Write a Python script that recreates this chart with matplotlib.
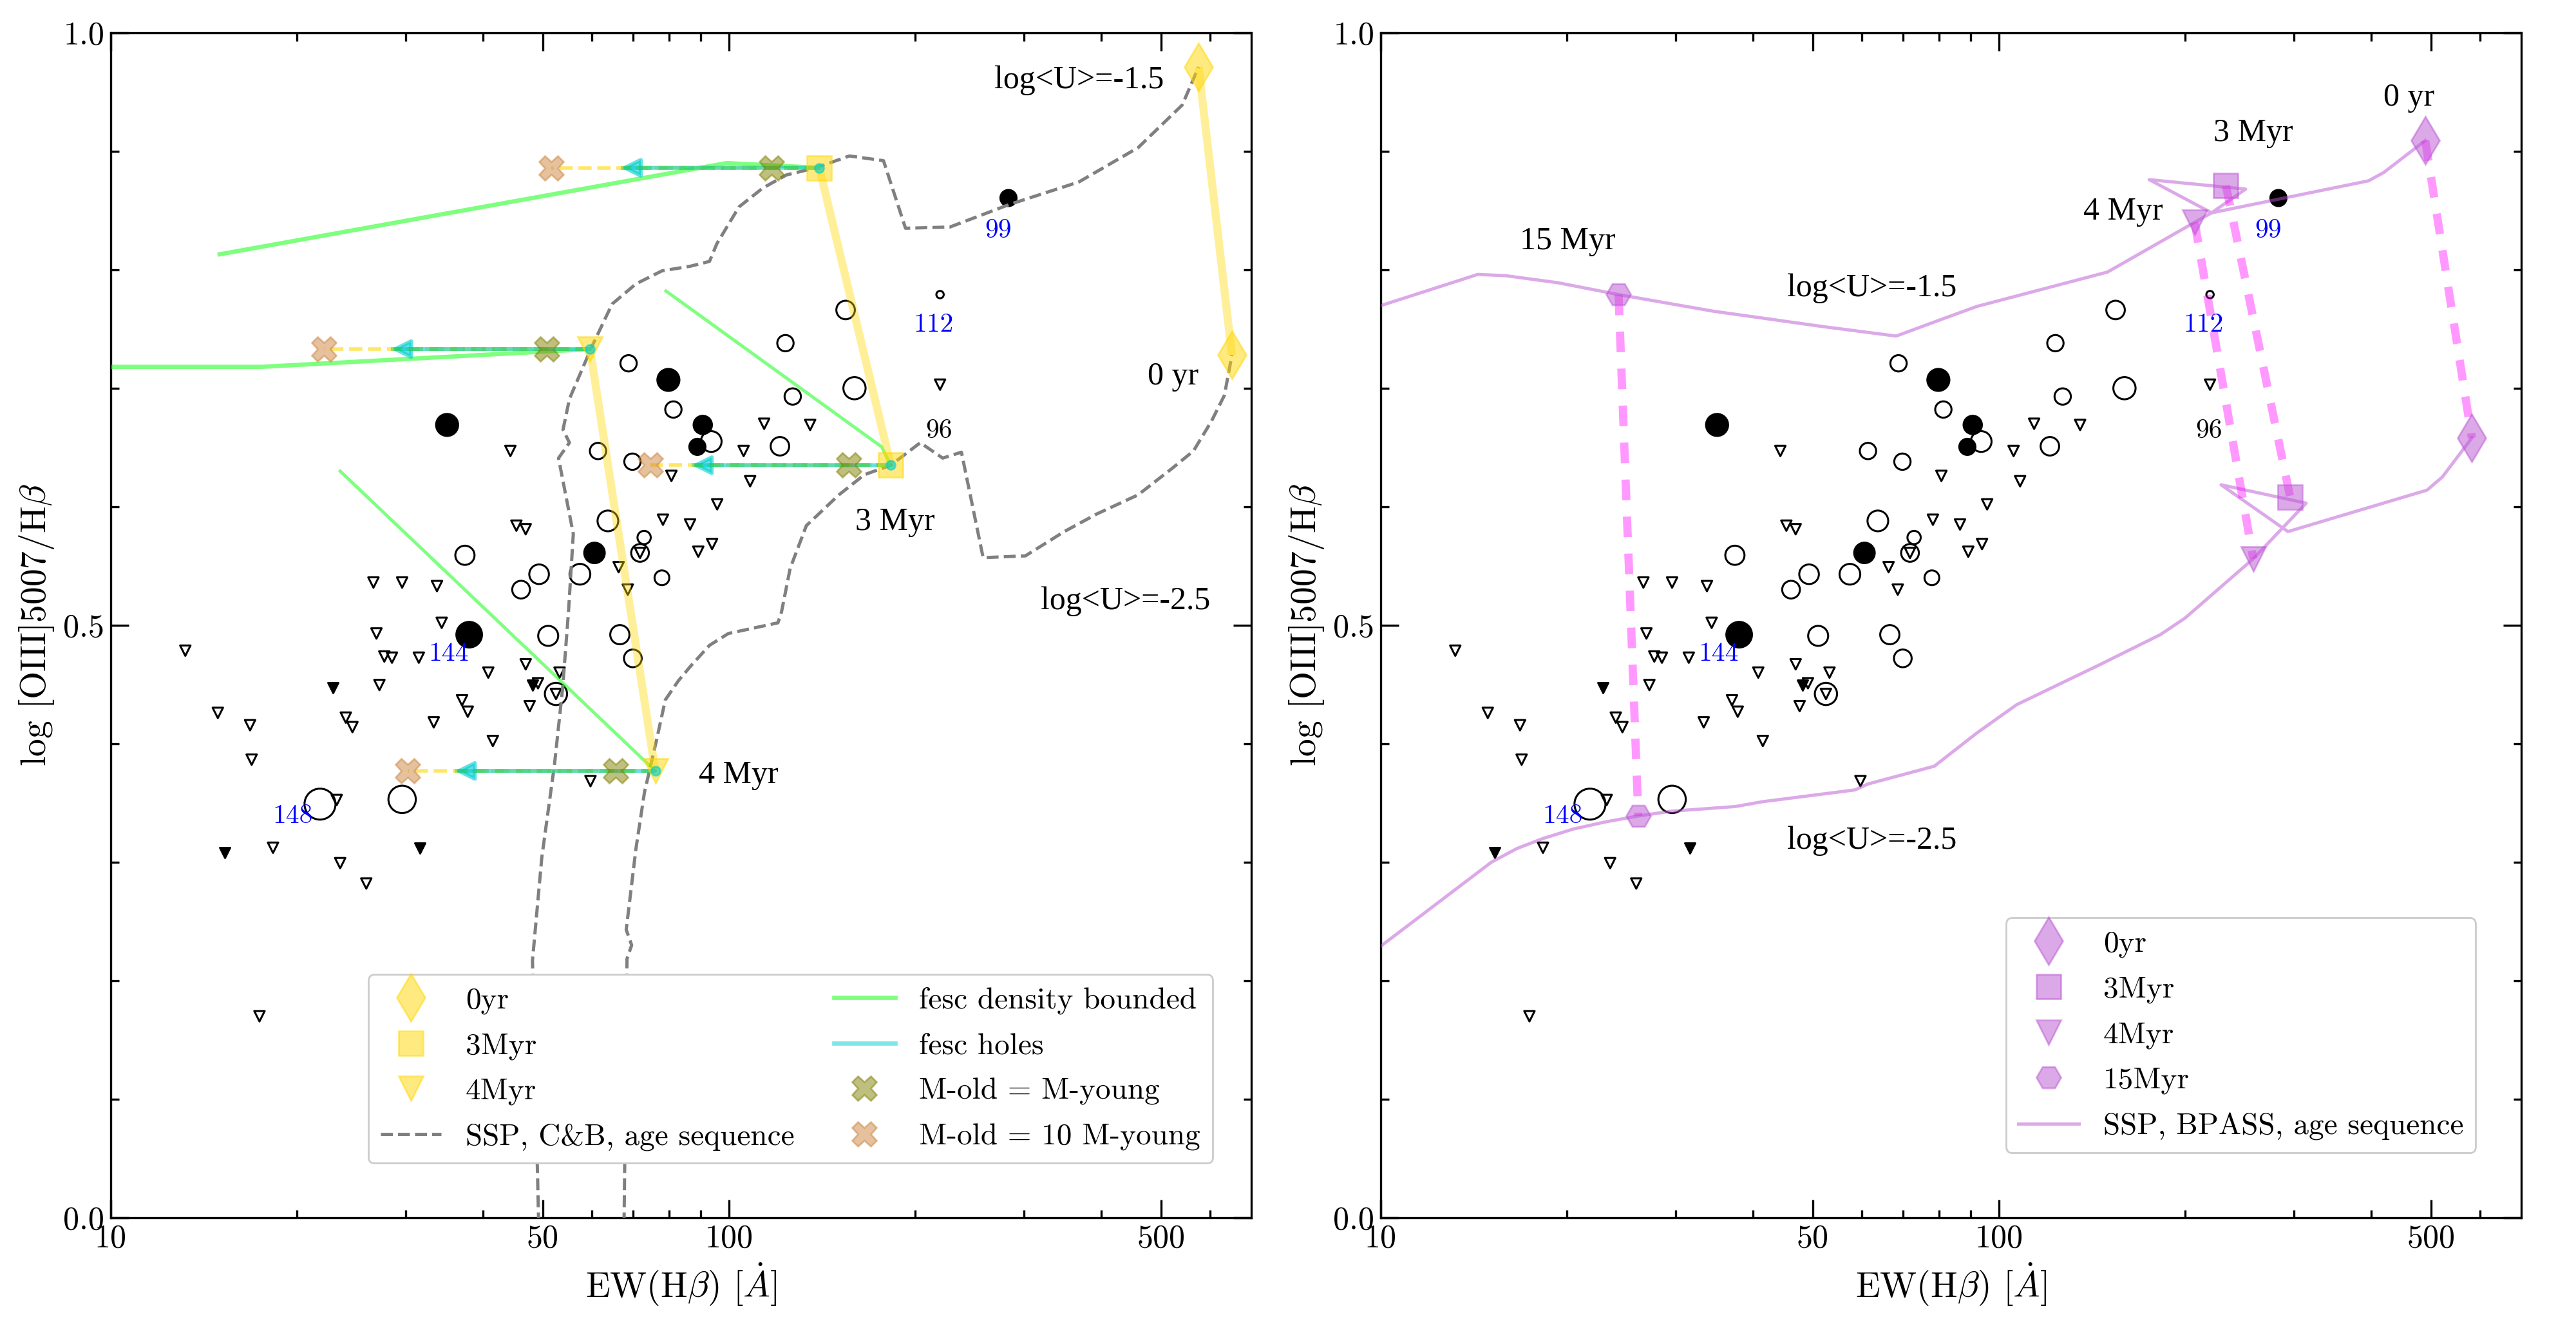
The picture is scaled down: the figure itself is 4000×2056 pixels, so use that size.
import matplotlib
matplotlib.use("Agg")
import matplotlib.pyplot as plt
from matplotlib.lines import Line2D
from matplotlib.ticker import FixedLocator, FixedFormatter, NullFormatter, MultipleLocator

plt.rcParams["font.family"] = ["cmr10", "DejaVu Serif"]
plt.rcParams["mathtext.fontset"] = "cm"
plt.rcParams["axes.formatter.use_mathtext"] = True
plt.rcParams["axes.unicode_minus"] = False

# ---- observed galaxies -------------------------------------------------
open_x = [68.8, 81.3, 61.4, 69.8, 63.7, 72.9, 71.8, 37.4, 49.3, 57.4, 46.1, 77.9,
          219.5, 154.4, 123.4, 159.6, 126.8, 93.6, 120.9, 51.0, 66.6, 69.9, 52.5,
          21.8, 29.6]
open_y = [0.721, 0.682, 0.647, 0.638, 0.588, 0.574, 0.561, 0.559, 0.543, 0.543,
          0.530, 0.540, 0.779, 0.766, 0.738, 0.700, 0.693, 0.655, 0.651, 0.491,
          0.492, 0.472, 0.442, 0.349, 0.353]
open_s = [83, 83, 83, 83, 134, 55, 98, 115, 120, 134, 98, 68,
          17, 107, 83, 154, 83, 134, 107, 125, 115, 98, 154, 300, 234]

filled_x = [79.8, 35.0, 60.6, 283.2, 90.7, 88.9, 38.0]
filled_y = [0.707, 0.669, 0.561, 0.8605, 0.669, 0.6505, 0.492]
filled_s = [154, 154, 134, 83, 107, 83, 208]

# upper limits (open) and filled triangles
lim_x = [44.3, 80.7, 78.2, 86.5, 45.3, 46.9, 71.8, 66.3, 26.6, 29.6, 33.7, 68.6,
         219.5, 114.0, 135.3, 105.6, 108.2, 95.7, 89.2, 93.9, 34.3, 26.9, 13.2,
         27.7, 28.5, 31.5, 40.8, 46.9, 49.1, 53.2, 52.5, 27.2, 37.0, 37.8, 47.6,
         33.3, 24.0, 24.6, 14.9, 16.8, 41.5, 16.9, 59.7, 23.2, 18.3, 23.5, 25.9,
         17.4]
lim_y = [0.647, 0.626, 0.589, 0.585, 0.584, 0.581, 0.561, 0.549, 0.536, 0.536,
         0.533, 0.530, 0.703, 0.670, 0.669, 0.647, 0.6215, 0.602, 0.562, 0.5685,
         0.502, 0.493, 0.4785, 0.4736, 0.4726, 0.4726, 0.460, 0.467, 0.451, 0.460,
         0.442, 0.4495, 0.4366, 0.427, 0.4317, 0.418, 0.422, 0.414, 0.426, 0.4156,
         0.4023, 0.3865, 0.3684, 0.3525, 0.3122, 0.2992, 0.282, 0.170]
limf_x = [22.9, 48.1, 15.3, 31.6]
limf_y = [0.447, 0.4495, 0.308, 0.312]

id_names = ["99", "112", "96", "144", "148"]
id_x = [272.5, 214.0, 218.6, 35.2, 19.7]
id_y = [0.833, 0.7535, 0.664, 0.476, 0.339]
id_col = ["blue", "blue", "black", "blue", "blue"]

# ---- C&B models (left) -------------------------------------------------
cb_ages = ["0yr", "3Myr", "4Myr"]
cb_hi_x = [575, 140, 59.6]
cb_hi_y = [0.971, 0.886, 0.733]
cb_lo_x = [651, 182.7, 76.0]
cb_lo_y = [0.728, 0.635, 0.377]

cb_trk_hi_x = [49.3, 48.1, 49.8, 52.2, 53.8, 55.0, 56.0, 53.0, 55.2, 53.9, 55.2,
               60.0, 64.7, 70.7, 77.9, 86.7, 93.0, 95.6, 103.8, 113.5, 123.9,
               138.3, 156.6, 177.8, 193, 227.7, 284, 368, 459, 541, 575]
cb_trk_hi_y = [-0.02, 0.217, 0.304, 0.382, 0.446, 0.511, 0.577, 0.641, 0.654,
               0.665, 0.691, 0.735, 0.771, 0.788, 0.799, 0.803, 0.807, 0.822,
               0.853, 0.869, 0.880, 0.886, 0.896, 0.892, 0.835, 0.836, 0.855,
               0.874, 0.903, 0.939, 0.971]
cb_trk_lo_x = [67.6, 68.4, 69.6, 68.2, 70.7, 73.0, 76.2, 78.9, 82.8, 86.7, 93.0,
               99.8, 120.0, 121.6, 125.6, 133.4, 150.6, 165.6, 182.7, 203.9,
               221.7, 237.7, 257.7, 301.6, 348.6, 394, 459, 520, 564, 603, 633, 651]
cb_trk_lo_y = [-0.02, 0.2185, 0.230, 0.243, 0.311, 0.359, 0.401, 0.437, 0.453,
               0.4655, 0.483, 0.493, 0.502, 0.511, 0.548, 0.584, 0.610, 0.627,
               0.635, 0.654, 0.641, 0.646, 0.557, 0.5585, 0.579, 0.594, 0.610,
               0.632, 0.647, 0.672, 0.694, 0.728]

# density bounded escape tracks
db_tracks_x = [[15.0, 99.1, 140], [9.0, 17.5, 59.6], [79.1, 176.6, 182.7], [23.5, 76.0]]
db_tracks_y = [[0.813, 0.890, 0.886], [0.718, 0.718, 0.733], [0.782, 0.6505, 0.635],
               [0.630, 0.377]]

# holes / old population mixing, one row per model point
mix_x0 = [140, 59.6, 182.7, 76.0]
mix_y = [0.886, 0.733, 0.635, 0.377]
holes_x = [66.8, 28.4, 87.0, 36.0]
mold1_x = [117.2, 50.7, 156.3, 65.6]
mold10_x = [51.6, 22.1, 74.6, 30.2]

left_notes = ["log<U>=-1.5", "0 yr", "3 Myr", "log<U>=-2.5", "4 Myr"]
left_notes_x = [268.9, 476, 160, 319, 89.3]
left_notes_y = [0.96, 0.71, 0.587, 0.52, 0.3735]

# ---- BPASS models (right) ----------------------------------------------
bp_ages = ["0yr", "3Myr", "4Myr", "15Myr"]
bp_hi_x = [489.4, 232.9, 207.3, 24.25]
bp_hi_y = [0.909, 0.871, 0.840, 0.779]
bp_lo_x = [582, 295.9, 257.8, 26.1]
bp_lo_y = [0.658, 0.608, 0.556, 0.339]

bp_trk_hi_x = [9.0, 14.35, 15.9, 19.35, 24.25, 34.5, 51.9, 68.2, 82.6, 92.1, 149.8,
               207.3, 220.8, 250.6, 175, 220.8, 396.1, 419.1, 489.4]
bp_trk_hi_y = [0.762, 0.796, 0.795, 0.789, 0.779, 0.765, 0.752, 0.744, 0.760, 0.769,
               0.798, 0.840, 0.848, 0.868, 0.876, 0.848, 0.875, 0.882, 0.909]
bp_trk_lo_x = [9.0, 15.1, 16.6, 18.3, 20.5, 23.1, 26.1, 29.5, 37.5, 41.4, 58.5, 61.4,
               78.6, 92.1, 99.5, 106.9, 144.7, 182.4, 200, 257.8, 314, 228.7, 293.4,
               492.7, 521.3, 582]
bp_trk_lo_y = [0.211, 0.300, 0.3115, 0.320, 0.328, 0.334, 0.339, 0.343, 0.347, 0.351,
               0.361, 0.366, 0.381, 0.409, 0.4215, 0.433, 0.466, 0.492, 0.506, 0.556,
               0.603, 0.6185, 0.579, 0.614, 0.625, 0.658]

right_notes = ["15 Myr", "log<U>=-1.5", "0 yr", "3 Myr", "4 Myr", "log<U>=-2.5"]
right_notes_x = [16.8, 45.4, 419, 222.3, 136.8, 45.4]
right_notes_y = [0.824, 0.784, 0.945, 0.915, 0.849, 0.318]

age_markers = ["d", "s", "v", "H"]
age_msize = [19, 13.4, 13.4, 13.7]


def style_axes(ax):
    ax.set_xscale("log")
    ax.set_xlim(10, 700)
    ax.set_ylim(0, 1)
    ax.xaxis.set_major_locator(FixedLocator([10, 50, 100, 500]))
    ax.xaxis.set_major_formatter(FixedFormatter(["10", "50", "100", "500"]))
    ax.xaxis.set_minor_locator(FixedLocator([20, 30, 40, 60, 70, 80, 90, 200, 300, 400, 600]))
    ax.xaxis.set_minor_formatter(NullFormatter())
    ax.yaxis.set_major_locator(FixedLocator([0.0, 0.5, 1.0]))
    ax.yaxis.set_major_formatter(FixedFormatter(["0.0", "0.5", "1.0"]))
    ax.yaxis.set_minor_locator(MultipleLocator(0.1))
    ax.tick_params(which="both", direction="in", top=True, right=True, labelsize=18)
    ax.tick_params(which="major", length=10, width=1.2)
    ax.tick_params(which="minor", length=4.5, width=1.2)
    for sp in ax.spines.values():
        sp.set_linewidth(1.2)
    ax.set_xlabel(r"EW(H$\beta$) [$\dot{A}$]", fontsize=20)
    ax.set_ylabel(r"log [OIII]5007/H$\beta$", fontsize=20)


def draw_obs(ax):
    ax.scatter(open_x, open_y, s=open_s, facecolors="none", edgecolors="k",
               linewidths=1.1, zorder=2)
    ax.scatter(filled_x, filled_y, s=filled_s, c="k", zorder=2)
    ax.scatter(lim_x, lim_y, s=34, marker="v", facecolors="none", edgecolors="k",
               linewidths=1.1, zorder=2)
    ax.scatter(limf_x, limf_y, s=34, marker="v", c="k", zorder=2)
    for name, x, y, c in zip(id_names, id_x, id_y, id_col):
        ax.text(x, y, name, color=c, fontsize=15, ha="center", va="center", zorder=6)


def draw_notes(ax, notes, xs, ys):
    for t, x, y in zip(notes, xs, ys):
        ax.text(x, y, t, fontsize=18, family=["Liberation Serif"], ha="left",
                va="center", zorder=6)


fig = plt.figure(figsize=(20, 10.28), dpi=200)
ax1 = fig.add_axes([0.043, 0.0803, 0.4428, 0.895])
ax2 = fig.add_axes([0.536, 0.0803, 0.4428, 0.895])

# ---- left panel ----
style_axes(ax1)
draw_obs(ax1)

ax1.plot(cb_trk_hi_x, cb_trk_hi_y, ls="--", color="gray", lw=1.8, zorder=3)
ax1.plot(cb_trk_lo_x, cb_trk_lo_y, ls="--", color="gray", lw=1.8, zorder=3)

for i, (tx, ty) in enumerate(zip(db_tracks_x, db_tracks_y)):
    ax1.plot(tx, ty, color="lime", alpha=0.5, lw=2.4 if i < 2 else 1.8, zorder=3)

for x0, y, xh, x10 in zip(mix_x0, mix_y, holes_x, mold10_x):
    ax1.plot([x0, x10], [y, y], ls="--", color="gold", alpha=0.6, lw=2.0, zorder=3)
    ax1.annotate("", xy=(xh, y), xytext=(x0, y),
                 arrowprops=dict(arrowstyle="-|>", color="darkturquoise", alpha=0.6,
                                 lw=2.2, mutation_scale=22, shrinkA=0, shrinkB=0),
                 zorder=4)
    ax1.plot([x0, xh], [y, y], ls="--", color="limegreen", alpha=0.45, lw=2.2, zorder=4)

ax1.plot(mix_x0, mix_y, ls="none", marker="o", ms=5, color="darkturquoise", alpha=0.6, zorder=6)

for hx, hy, lx, ly in zip(cb_hi_x, cb_hi_y, cb_lo_x, cb_lo_y):
    ax1.plot([hx, lx], [hy, ly], color="gold", alpha=0.4, lw=4.5,
             solid_capstyle="butt", zorder=3)

cb_handles = []
for i, age in enumerate(cb_ages):
    h, = ax1.plot([cb_hi_x[i], cb_lo_x[i]], [cb_hi_y[i], cb_lo_y[i]], ls="none",
                  marker=age_markers[i], ms=age_msize[i], color="gold", alpha=0.5,
                  label=age, zorder=5)
    cb_handles.append(h)

h_m1, = ax1.plot(mold1_x, mix_y, ls="none", marker="X", ms=14, color="olive",
                 alpha=0.5, label="M-old = M-young", zorder=5)
h_m10, = ax1.plot(mold10_x, mix_y, ls="none", marker="X", ms=14, color="peru",
                  alpha=0.5, label="M-old = 10 M-young", zorder=5)

draw_notes(ax1, left_notes, left_notes_x, left_notes_y)

h_cb = Line2D([], [], ls="--", color="gray", lw=1.8, label="SSP, C&B, age sequence")
h_db = Line2D([], [], color="lime", alpha=0.5, lw=2.4, label="fesc density bounded")
h_ho = Line2D([], [], color="darkturquoise", alpha=0.5, lw=2.4, label="fesc holes")
ax1.legend(handles=cb_handles + [h_cb, h_db, h_ho, h_m1, h_m10], ncol=2, fontsize=17,
           loc="lower right", bbox_to_anchor=(0.966, 0.046), borderaxespad=0,
           framealpha=1, labelspacing=0.6, columnspacing=1.3)

# ---- right panel ----
style_axes(ax2)
draw_obs(ax2)

h_bp, = ax2.plot(bp_trk_hi_x, bp_trk_hi_y, color="mediumorchid", alpha=0.5, lw=1.8,
                 zorder=3, label="SSP, BPASS, age sequence")
ax2.plot(bp_trk_lo_x, bp_trk_lo_y, color="mediumorchid", alpha=0.5, lw=1.8, zorder=3)

for hx, hy, lx, ly in zip(bp_hi_x, bp_hi_y, bp_lo_x, bp_lo_y):
    ax2.plot([hx, lx], [hy, ly], color="magenta", alpha=0.4, lw=4.6,
             ls=(0, (2.5, 2)), zorder=3)

bp_handles = []
for i, age in enumerate(bp_ages):
    h, = ax2.plot([bp_hi_x[i], bp_lo_x[i]], [bp_hi_y[i], bp_lo_y[i]], ls="none",
                  marker=age_markers[i], ms=age_msize[i], color="mediumorchid",
                  alpha=0.5, label=age, zorder=5)
    bp_handles.append(h)

draw_notes(ax2, right_notes, right_notes_x, right_notes_y)

ax2.legend(handles=bp_handles + [h_bp], fontsize=17, loc="lower right",
           bbox_to_anchor=(0.960, 0.055), borderaxespad=0, framealpha=1,
           labelspacing=0.6)

fig.savefig("out.png", dpi=200)
